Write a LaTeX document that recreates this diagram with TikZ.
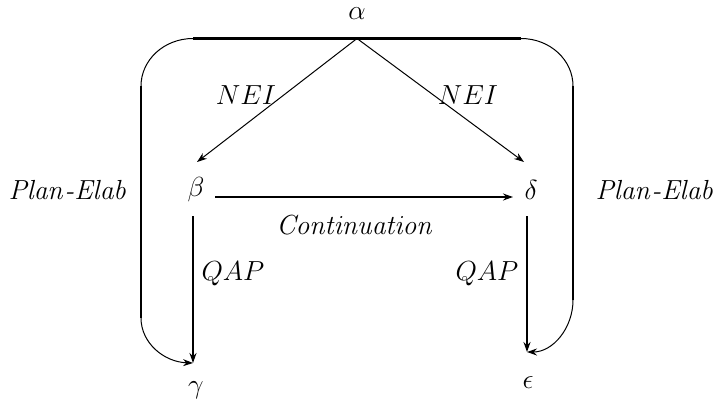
\documentclass[tikz,border=0pt]{standalone}
\usetikzlibrary{arrows.meta}
\begin{document}
\begin{tikzpicture}[x=1pt,y=-1pt,
  thinline/.style={line width=1pt},
  thickline/.style={line width=1.8pt},
  tip/.style={-{Stealth[length=10pt,width=7pt]}},
  lbl/.style={inner sep=0pt,font=\huge,scale=1.33}]
\useasboundingbox (0,0) rectangle (714,407);
% nodes
\node[lbl] (a) at (357,14) {$\alpha$};
\node[lbl] (b) at (196,190) {$\beta$};
\node[lbl] (d) at (531,190) {$\delta$};
\node[lbl] (g) at (196,390) {$\gamma$};
\node[lbl] (e) at (528,383) {$\epsilon$};
% anchor points
\coordinate (aj) at (357,38.5);
\coordinate (tl) at (193,38.5);
\coordinate (tr) at (521,38.5);
\coordinate (lt) at (141,86);
\coordinate (lb) at (141,318);
\coordinate (rt) at (573,86);
\coordinate (rb) at (573,300);
\coordinate (bin) at (197,162);
\coordinate (din) at (524,162);
\coordinate (bo) at (215,197);
\coordinate (di) at (513,197);
\coordinate (bd) at (193,216);
\coordinate (gi) at (193,363);
\coordinate (dd) at (527,216);
\coordinate (ei) at (527,352);
% top thick line
\draw[line width=2.6pt] (tl) -- (aj) -- (tr);
% Plan-Elab left
\draw[thinline] (tl) .. controls (164,38.5) and (141,60) .. (lt);
\draw[thickline] (lt) -- (lb);
\draw[thinline,tip] (lb) .. controls (141,343) and (164,362) .. (gi);
% Plan-Elab right
\draw[thinline] (tr) .. controls (550,38.5) and (573,60) .. (rt);
\draw[thickline] (rt) -- (rb);
\draw[thinline,tip] (rb) .. controls (573,328) and (553,352) .. (ei);
% NEI
\draw[thinline,tip] (aj) -- (bin);
\draw[thinline,tip] (aj) -- (din);
% Continuation
\draw[thickline,tip] (bo) -- (di);
% QAP
\draw[thickline,tip] (bd) -- (gi);
\draw[thickline,tip] (dd) -- (ei);
% labels
\node[lbl] (l1) at (68,190) {$\mathit{Plan}\textit{-}\mathit{Elab}$};
\node[lbl] (l2) at (655,190) {$\mathit{Plan}\textit{-}\mathit{Elab}$};
\node[lbl] (l3) at (233,274) {$QAP$};
\node[lbl] (l4) at (487,274) {$QAP$};
\node[lbl] (l5) at (246,95) {$NEI$};
\node[lbl] (l6) at (468,95) {$NEI$};
\node[lbl] (l7) at (355,225) {$\mathit{Continuation}$};
\end{tikzpicture}
\end{document}
